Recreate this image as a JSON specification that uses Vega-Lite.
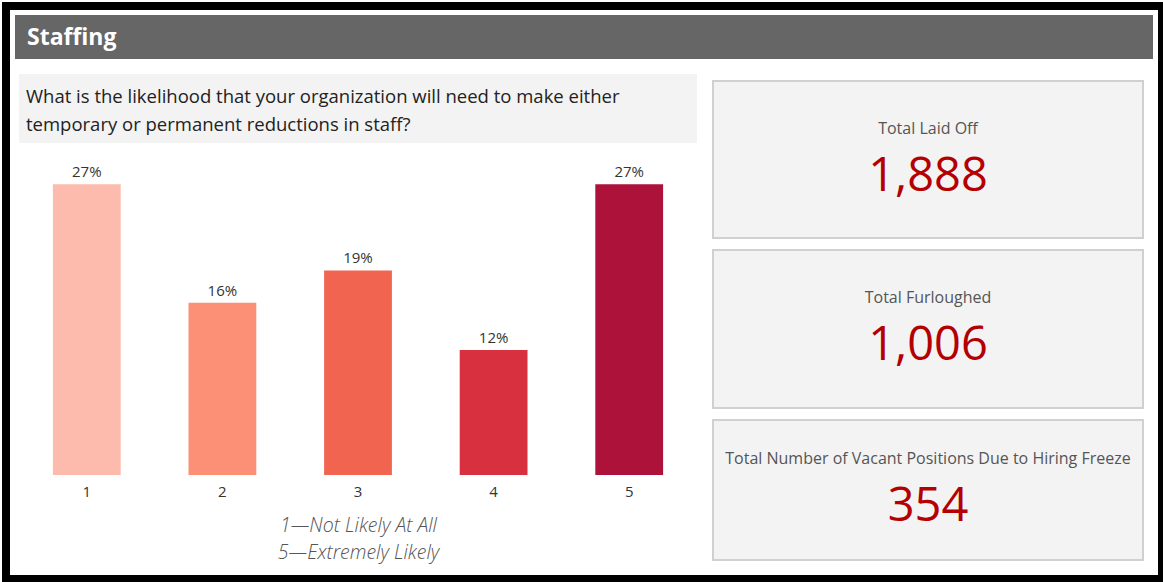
{
  "$schema": "https://vega.github.io/schema/vega-lite/v6.json",
  "background": "white",
  "padding": {"left": 2, "top": 2, "right": 0, "bottom": 0},
  "config": {"view": {"stroke": null}, "font": "Open Sans"},
  "datasets": {
    "ratings": [
      {"rating": "1", "share": 0.27},
      {"rating": "2", "share": 0.16},
      {"rating": "3", "share": 0.19},
      {"rating": "4", "share": 0.116},
      {"rating": "5", "share": 0.27}
    ],
    "kpis": [
      {"label": "Total Laid Off", "value": 1888},
      {"label": "Total Furloughed", "value": 1006},
      {"label": "Total Number of Vacant Positions Due to Hiring Freeze", "value": 354}
    ],
    "header": [{"text": "Staffing"}],
    "question": [{"text": "What is the likelihood that your organization will need to make either\ntemporary or permanent reductions in staff?"}],
    "none": []
  },
  "spacing": 0,
  "vconcat": [
    {"data": {"name": "none"}, "mark": {"type": "text"}, "width": 1161, "height": 8, "view": {"fill": "black", "stroke": null}},
    {
      "spacing": 0,
      "hconcat": [
        {"data": {"name": "none"}, "mark": {"type": "text"}, "width": 8, "height": 565, "view": {"fill": "black", "stroke": null}},
        {
          "spacing": 4,
          "hconcat": [
            {"data": {"name": "none"}, "mark": {"type": "text"}, "width": 1, "height": 1},
            {
              "spacing": 4,
              "vconcat": [
                {"data": {"name": "none"}, "mark": {"type": "text"}, "width": 1, "height": 1},
                {
                  "spacing": 15,
                  "vconcat": [
                    {
                      "data": {"name": "header"},
                      "width": 1138,
                      "height": 44,
                      "view": {"fill": "#666666", "stroke": null},
                      "mark": {"type": "text", "align": "left", "baseline": "middle", "dx": 12, "dy": 1, "fill": "white", "fontSize": 23, "fontWeight": "bold", "font": "Open Sans"},
                      "encoding": {
                        "x": {"datum": 0, "type": "quantitative", "scale": {"domain": [0, 1]}, "axis": null},
                        "text": {"field": "text", "type": "nominal"}
                      }
                    },
                    {
                      "spacing": 3,
                      "hconcat": [
                        {"data": {"name": "none"}, "mark": {"type": "text"}, "width": 1, "height": 1},
                        {
                          "spacing": 9,
                          "vconcat": [
                            {
                              "data": {"name": "question"},
                              "width": 678,
                              "height": 69,
                              "view": {"fill": "#f3f3f3", "stroke": null},
                              "mark": {"type": "text", "align": "left", "baseline": "middle", "lineBreak": "\n", "lineHeight": 28, "dx": 7, "dy": -12, "fill": "#222222", "fontSize": 18.5, "font": "Open Sans"},
                              "encoding": {
                                "x": {"datum": 0, "type": "quantitative", "scale": {"domain": [0, 1]}, "axis": null},
                                "text": {"field": "text", "type": "nominal"}
                              }
                            },
                            {
                              "data": {"name": "ratings"},
                              "width": 678,
                              "height": 323,
                              "encoding": {
                                "x": {
                                  "field": "rating",
                                  "type": "nominal",
                                  "sort": null,
                                  "scale": {"paddingInner": 0.5, "paddingOuter": 0.25},
                                  "axis": {
                                    "labelAngle": 0,
                                    "ticks": false,
                                    "domain": false,
                                    "grid": false,
                                    "labelFontSize": 15,
                                    "labelColor": "#333333",
                                    "labelPadding": 9,
                                    "labelFont": "Open Sans",
                                    "title": ["1—Not Likely At All", "5—Extremely Likely"],
                                    "titleFont": "Open Sans",
                                    "titleFontStyle": "italic",
                                    "titleFontWeight": 300,
                                    "titleFontSize": 19.5,
                                    "titleColor": "#555555",
                                    "titleLineHeight": 27,
                                    "titlePadding": 17
                                  }
                                },
                                "y": {"field": "share", "type": "quantitative", "scale": {"domain": [0, 0.3], "nice": false, "zero": true}, "axis": null}
                              },
                              "layer": [
                                {
                                  "mark": {"type": "bar"},
                                  "encoding": {
                                    "color": {
                                      "field": "rating",
                                      "type": "nominal",
                                      "scale": {"domain": ["1", "2", "3", "4", "5"], "range": ["#fdbbad", "#fc9077", "#f06450", "#d9303f", "#ad133a"]},
                                      "legend": null
                                    }
                                  }
                                },
                                {
                                  "mark": {"type": "text", "baseline": "bottom", "dy": -4, "fontSize": 15, "fill": "#333333", "font": "Open Sans"},
                                  "encoding": {"text": {"field": "share", "type": "quantitative", "format": ".0%"}}
                                }
                              ]
                            }
                          ]
                        },
                        {
                          "spacing": 11,
                          "hconcat": [
                            {"data": {"name": "none"}, "mark": {"type": "text"}, "width": 1, "height": 1},
                            {
                              "spacing": 5,
                              "vconcat": [
                                {"data": {"name": "none"}, "mark": {"type": "text"}, "width": 1, "height": 1},
                                {
                                  "spacing": 10,
                                  "vconcat": [
                                    {
                                      "data": {"name": "kpis"},
                                      "transform": [{"filter": "datum.label === 'Total Laid Off'"}],
                                      "width": 430,
                                      "height": 157,
                                      "view": {"fill": "#f3f3f3", "stroke": "#d0d0d0", "strokeWidth": 2},
                                      "layer": [
                                        {"mark": {"type": "text", "baseline": "middle", "dy": -31, "fontSize": 16, "fill": "#555555", "font": "Open Sans"}, "encoding": {"text": {"field": "label", "type": "nominal"}}},
                                        {"mark": {"type": "text", "baseline": "middle", "dy": 17, "fontSize": 47, "fill": "#b40000", "font": "Open Sans"}, "encoding": {"text": {"field": "value", "type": "quantitative", "format": ","}}}
                                      ]
                                    },
                                    {
                                      "data": {"name": "kpis"},
                                      "transform": [{"filter": "datum.label === 'Total Furloughed'"}],
                                      "width": 430,
                                      "height": 158,
                                      "view": {"fill": "#f3f3f3", "stroke": "#d0d0d0", "strokeWidth": 2},
                                      "layer": [
                                        {"mark": {"type": "text", "baseline": "middle", "dy": -31, "fontSize": 16, "fill": "#555555", "font": "Open Sans"}, "encoding": {"text": {"field": "label", "type": "nominal"}}},
                                        {"mark": {"type": "text", "baseline": "middle", "dy": 17, "fontSize": 47, "fill": "#b40000", "font": "Open Sans"}, "encoding": {"text": {"field": "value", "type": "quantitative", "format": ","}}}
                                      ]
                                    },
                                    {
                                      "data": {"name": "kpis"},
                                      "transform": [{"filter": "datum.label === 'Total Number of Vacant Positions Due to Hiring Freeze'"}],
                                      "width": 430,
                                      "height": 140,
                                      "view": {"fill": "#f3f3f3", "stroke": "#d0d0d0", "strokeWidth": 2},
                                      "layer": [
                                        {"mark": {"type": "text", "baseline": "middle", "dy": -31, "fontSize": 16, "fill": "#555555", "font": "Open Sans"}, "encoding": {"text": {"field": "label", "type": "nominal"}}},
                                        {"mark": {"type": "text", "baseline": "middle", "dy": 17, "fontSize": 47, "fill": "#b40000", "font": "Open Sans"}, "encoding": {"text": {"field": "value", "type": "quantitative", "format": ","}}}
                                      ]
                                    }
                                  ]
                                }
                              ]
                            }
                          ]
                        }
                      ]
                    }
                  ]
                }
              ]
            },
            {"data": {"name": "none"}, "mark": {"type": "text"}, "width": 1, "height": 1}
          ]
        },
        {"data": {"name": "none"}, "mark": {"type": "text"}, "width": 5, "height": 565, "view": {"fill": "black", "stroke": null}}
      ]
    },
    {"data": {"name": "none"}, "mark": {"type": "text"}, "width": 1161, "height": 7, "view": {"fill": "black", "stroke": null}}
  ]
}
